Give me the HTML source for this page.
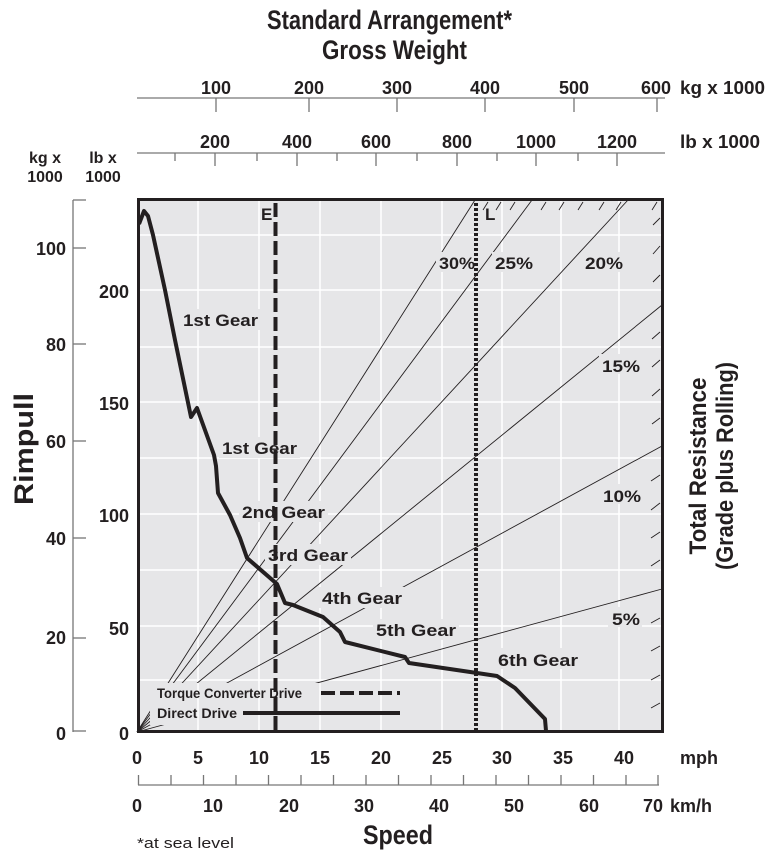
<!DOCTYPE html>
<html><head><meta charset="utf-8"><style>
html,body{margin:0;padding:0;background:#fff;}
svg{display:block;}
text{font-family:"Liberation Sans",sans-serif;font-weight:bold;fill:#231f20;}
</style></head><body>
<svg width="768" height="853" viewBox="0 0 768 853" xmlns="http://www.w3.org/2000/svg">
<text x="267" y="29" font-size="27" textLength="245" lengthAdjust="spacingAndGlyphs">Standard Arrangement*</text>
<text x="322" y="59" font-size="27" textLength="145" lengthAdjust="spacingAndGlyphs">Gross Weight</text>
<g font-size="18" text-anchor="middle">
<text x="216" y="94">100</text><text x="309" y="94">200</text><text x="397" y="94">300</text>
<text x="485" y="94">400</text><text x="574" y="94">500</text><text x="656" y="94">600</text>
<text x="680" y="94" text-anchor="start" textLength="85" lengthAdjust="spacingAndGlyphs">kg x 1000</text>
<text x="215" y="148">200</text><text x="297" y="148">400</text><text x="376" y="148">600</text>
<text x="457" y="148">800</text><text x="536" y="148">1000</text><text x="617" y="148">1200</text>
<text x="680" y="148" text-anchor="start" textLength="80" lengthAdjust="spacingAndGlyphs">lb x 1000</text>
</g>
<g stroke="#777" stroke-width="1.3">
<line x1="137" y1="98" x2="665" y2="98"/>
<line x1="216" y1="98" x2="216" y2="112"/><line x1="309" y1="98" x2="309" y2="112"/><line x1="397" y1="98" x2="397" y2="112"/>
<line x1="485" y1="98" x2="485" y2="112"/><line x1="574" y1="98" x2="574" y2="112"/><line x1="657" y1="98" x2="657" y2="112"/>
<line x1="137" y1="153" x2="665" y2="153"/>
<line x1="215" y1="153" x2="215" y2="166"/><line x1="297" y1="153" x2="297" y2="166"/><line x1="376" y1="153" x2="376" y2="166"/>
<line x1="457" y1="153" x2="457" y2="166"/><line x1="536" y1="153" x2="536" y2="166"/><line x1="617" y1="153" x2="617" y2="166"/>
<line x1="175" y1="153" x2="175" y2="161"/><line x1="257" y1="153" x2="257" y2="161"/><line x1="337" y1="153" x2="337" y2="161"/>
<line x1="417" y1="153" x2="417" y2="161"/><line x1="497" y1="153" x2="497" y2="161"/><line x1="578" y1="153" x2="578" y2="161"/>
</g>
<g font-size="16" text-anchor="middle">
<text x="45" y="163">kg x</text><text x="45" y="182">1000</text>
<text x="103" y="163">lb x</text><text x="103" y="182">1000</text>
</g>
<g stroke="#777" stroke-width="1.3">
<line x1="73" y1="200" x2="73" y2="732"/>
<line x1="73" y1="200" x2="86" y2="200"/>
<line x1="73" y1="248" x2="86" y2="248"/><line x1="73" y1="344" x2="86" y2="344"/><line x1="73" y1="441" x2="86" y2="441"/>
<line x1="73" y1="538" x2="86" y2="538"/><line x1="73" y1="638" x2="86" y2="638"/><line x1="73" y1="731" x2="86" y2="731"/>
</g>
<g font-size="18" text-anchor="end">
<text x="66" y="255">100</text><text x="66" y="351">80</text><text x="66" y="448">60</text>
<text x="66" y="545">40</text><text x="66" y="644">20</text><text x="66" y="740">0</text>
<text x="129" y="298">200</text><text x="129" y="410">150</text><text x="129" y="522">100</text>
<text x="129" y="635">50</text><text x="129" y="740">0</text>
</g>
<text transform="translate(33,449) rotate(-90)" font-size="27" text-anchor="middle" textLength="112" lengthAdjust="spacingAndGlyphs">Rimpull</text>
<text transform="translate(706,466) rotate(-90)" font-size="24" text-anchor="middle" textLength="177" lengthAdjust="spacingAndGlyphs">Total Resistance</text>
<text transform="translate(733,466) rotate(-90)" font-size="24" text-anchor="middle" textLength="208" lengthAdjust="spacingAndGlyphs">(Grade plus Rolling)</text>
<rect x="139" y="200" width="523" height="531" fill="#e6e6e8"/>
<g stroke="#fff" stroke-width="1.5">
<line x1="198" y1="200" x2="198" y2="731"/><line x1="259" y1="200" x2="259" y2="731"/><line x1="320" y1="200" x2="320" y2="731"/>
<line x1="381" y1="200" x2="381" y2="731"/><line x1="442" y1="200" x2="442" y2="731"/><line x1="502" y1="200" x2="502" y2="731"/>
<line x1="561" y1="200" x2="561" y2="731"/><line x1="619" y1="200" x2="619" y2="731"/>
<line x1="139" y1="235" x2="662" y2="235"/><line x1="139" y1="290" x2="662" y2="290"/><line x1="139" y1="347" x2="662" y2="347"/>
<line x1="139" y1="402" x2="662" y2="402"/><line x1="139" y1="458" x2="662" y2="458"/><line x1="139" y1="514" x2="662" y2="514"/>
<line x1="139" y1="570" x2="662" y2="570"/><line x1="139" y1="626" x2="662" y2="626"/><line x1="139" y1="680" x2="662" y2="680"/>
</g>
<g stroke="#231f20" stroke-width="0.9">
<line x1="137" y1="732" x2="475" y2="200"/>
<line x1="137" y1="732" x2="532" y2="200"/>
<line x1="137" y1="732" x2="628" y2="200"/>
<line x1="137" y1="732" x2="662" y2="305"/>
<line x1="137" y1="732" x2="662" y2="446"/>
<line x1="137" y1="732" x2="662" y2="589"/>
</g>
<g stroke="#231f20" stroke-width="0.9">
<line x1="651" y1="708" x2="660" y2="703"/><line x1="651" y1="680" x2="660" y2="675"/><line x1="651" y1="651" x2="660" y2="646"/>
<line x1="651" y1="623" x2="660" y2="618"/><line x1="651" y1="566" x2="660" y2="560"/><line x1="651" y1="538" x2="660" y2="532"/>
<line x1="651" y1="510" x2="660" y2="503"/><line x1="651" y1="481" x2="660" y2="475"/><line x1="652" y1="424" x2="660" y2="418"/>
<line x1="652" y1="396" x2="660" y2="389"/><line x1="652" y1="367" x2="660" y2="360"/><line x1="652" y1="339" x2="660" y2="332"/>
<line x1="653" y1="282" x2="660" y2="275"/><line x1="653" y1="254" x2="660" y2="246"/><line x1="653" y1="225" x2="660" y2="218"/>
<line x1="652" y1="210" x2="657" y2="202"/>
<line x1="599" y1="210" x2="604" y2="202"/><line x1="578" y1="210" x2="583" y2="202"/><line x1="559" y1="210" x2="564" y2="202"/>
<line x1="541" y1="210" x2="546" y2="202"/><line x1="510" y1="210" x2="515" y2="202"/><line x1="496" y1="210" x2="501" y2="202"/>
<line x1="483" y1="210" x2="488" y2="202"/><line x1="616" y1="210" x2="621" y2="202"/>
</g>
<rect x="150" y="683" width="265" height="42" fill="#e6e6e8"/>
<g stroke="#fff" stroke-width="1.5"><line x1="198" y1="683" x2="198" y2="725"/><line x1="259" y1="683" x2="259" y2="725"/><line x1="320" y1="683" x2="320" y2="725"/><line x1="381" y1="683" x2="381" y2="725"/></g>
<g fill="#e6e6e8">
<rect x="180" y="309" width="81" height="21"/><rect x="219" y="437" width="81" height="21"/>
<rect x="239" y="501" width="89" height="21"/><rect x="265" y="544" width="86" height="21"/>
<rect x="319" y="587" width="86" height="21"/><rect x="373" y="619" width="86" height="21"/>
<rect x="495" y="648" width="86" height="21"/>
<rect x="436" y="252" width="39" height="20"/><rect x="492" y="252" width="42" height="20"/><rect x="582" y="252" width="42" height="20"/>
<rect x="599" y="354" width="44" height="20"/><rect x="600" y="484" width="44" height="20"/><rect x="608" y="607" width="34" height="20"/>
</g>
<line x1="275.5" y1="203" x2="275.5" y2="731" stroke="#231f20" stroke-width="4" stroke-dasharray="14,5"/>
<line x1="476" y1="203" x2="476" y2="731" stroke="#231f20" stroke-width="4" stroke-dasharray="3,2"/>
<text x="261" y="220" font-size="17">E</text>
<text x="485" y="220" font-size="17">L</text>
<polyline fill="none" stroke="#231f20" stroke-width="4" stroke-linejoin="round" points="139,224 144,211 148,216 153,235 165,290 175,340 191,417 197,408 214,455 216,466 218,493 230,515 240,538 247,558 277,584 285,603 293,605 323,617 340,632 345,642 405,657 409,663 477,673 497,676 515,688 545,719 546,731"/>
<g font-size="17">
<text x="183" y="326" textLength="75" lengthAdjust="spacingAndGlyphs">1st Gear</text>
<text x="222" y="454" textLength="75" lengthAdjust="spacingAndGlyphs">1st Gear</text>
<text x="242" y="518" textLength="83" lengthAdjust="spacingAndGlyphs">2nd Gear</text>
<text x="268" y="561" textLength="80" lengthAdjust="spacingAndGlyphs">3rd Gear</text>
<text x="322" y="604" textLength="80" lengthAdjust="spacingAndGlyphs">4th Gear</text>
<text x="376" y="636" textLength="80" lengthAdjust="spacingAndGlyphs">5th Gear</text>
<text x="498" y="666" textLength="80" lengthAdjust="spacingAndGlyphs">6th Gear</text>
<text x="439" y="269" textLength="36" lengthAdjust="spacingAndGlyphs">30%</text>
<text x="495" y="269" textLength="38" lengthAdjust="spacingAndGlyphs">25%</text>
<text x="585" y="269" textLength="38" lengthAdjust="spacingAndGlyphs">20%</text>
<text x="602" y="372" textLength="38" lengthAdjust="spacingAndGlyphs">15%</text>
<text x="603" y="502" textLength="38" lengthAdjust="spacingAndGlyphs">10%</text>
<text x="612" y="625" textLength="28" lengthAdjust="spacingAndGlyphs">5%</text>
</g>
<text x="157" y="698" font-size="14" textLength="145" lengthAdjust="spacingAndGlyphs">Torque Converter Drive</text>
<line x1="321" y1="693" x2="400" y2="693" stroke="#231f20" stroke-width="4" stroke-dasharray="14,5"/>
<text x="157" y="718" font-size="14" textLength="80" lengthAdjust="spacingAndGlyphs">Direct Drive</text>
<line x1="243" y1="713" x2="400" y2="713" stroke="#231f20" stroke-width="4"/>
<rect x="138.5" y="199.5" width="524" height="532" fill="none" stroke="#231f20" stroke-width="3"/>
<g font-size="18" text-anchor="middle">
<text x="137" y="764">0</text><text x="198" y="764">5</text><text x="259" y="764">10</text><text x="320" y="764">15</text>
<text x="381" y="764">20</text><text x="442" y="764">25</text><text x="502" y="764">30</text><text x="563" y="764">35</text>
<text x="624" y="764">40</text>
<text x="680" y="764" text-anchor="start">mph</text>
<text x="137" y="812">0</text><text x="213" y="812">10</text><text x="289" y="812">20</text><text x="364" y="812">30</text>
<text x="439" y="812">40</text><text x="514" y="812">50</text><text x="589" y="812">60</text><text x="653" y="812">70</text>
<text x="670" y="812" text-anchor="start">km/h</text>
</g>
<g stroke="#777" stroke-width="1.3">
<line x1="138" y1="785" x2="659" y2="785"/>
<line x1="138.5" y1="775" x2="138.5" y2="785"/><line x1="171" y1="775" x2="171" y2="785"/><line x1="203.5" y1="775" x2="203.5" y2="785"/>
<line x1="236" y1="775" x2="236" y2="785"/><line x1="268.5" y1="775" x2="268.5" y2="785"/><line x1="301" y1="775" x2="301" y2="785"/>
<line x1="333.5" y1="775" x2="333.5" y2="785"/><line x1="366" y1="775" x2="366" y2="785"/><line x1="398.5" y1="775" x2="398.5" y2="785"/>
<line x1="431" y1="775" x2="431" y2="785"/><line x1="463.5" y1="775" x2="463.5" y2="785"/><line x1="496" y1="775" x2="496" y2="785"/>
<line x1="528.5" y1="775" x2="528.5" y2="785"/><line x1="561" y1="775" x2="561" y2="785"/><line x1="593.5" y1="775" x2="593.5" y2="785"/>
<line x1="626" y1="775" x2="626" y2="785"/><line x1="658" y1="775" x2="658" y2="785"/>
</g>
<text x="363" y="844" font-size="27" textLength="70" lengthAdjust="spacingAndGlyphs">Speed</text>
<text x="137" y="848" font-size="15" style="font-weight:normal" textLength="97" lengthAdjust="spacingAndGlyphs">*at sea level</text>
</svg>
</body></html>
